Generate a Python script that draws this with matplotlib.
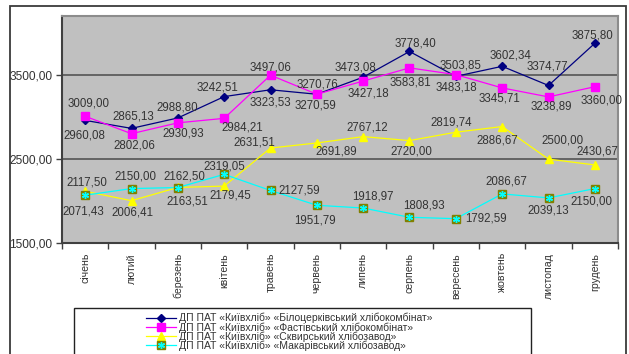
import matplotlib
matplotlib.use("Agg")
import matplotlib.pyplot as plt
from matplotlib.lines import Line2D
from matplotlib.patches import Rectangle

plt.rcParams["font.family"] = ["Liberation Sans", "DejaVu Sans"]

MONTHS = ["січень", "лютий", "березень", "квітень", "травень", "червень",
          "липень", "серпень", "вересень", "жовтень", "листопад", "грудень"]

BILA_TSERKVA = [2960.08, 2865.13, 2988.80, 3242.51, 3323.53, 3270.59,
                3473.08, 3778.40, 3483.18, 3602.34, 3374.77, 3875.80]
FASTIV = [3009.00, 2802.06, 2930.93, 2984.21, 3497.06, 3270.76,
          3427.18, 3583.81, 3503.85, 3345.71, 3238.89, 3360.00]
SKVYRA = [2117.50, 2006.41, 2163.51, 2179.45, 2631.51, 2691.89,
          2767.12, 2720.00, 2819.74, 2886.67, 2500.00, 2430.67]
MAKARIV = [2071.43, 2150.00, 2162.50, 2319.05, 2127.59, 1951.79,
           1918.97, 1808.93, 1792.59, 2086.67, 2039.13, 2150.00]

NAMES = [
    "ДП ПАТ «Київхліб» «Білоцерківський хлібокомбінат»",
    "ДП ПАТ «Київхліб» «Фастівський хлібокомбінат»",
    "ДП ПАТ «Київхліб» «Сквирський хлібозавод»",
    "ДП ПАТ «Київхліб» «Макарівський хлібозавод»",
]

# label offsets from each point, pixels (dx right, dy down)
OFFSETS = [
    [(-1, 15), (2, -12), (-1, -10), (-7, -9), (0, 13), (-1, 11),
     (-8, -10), (6, -8), (1, 11), (8, -11), (-1, -19), (-2, -8)],
    [(3, -13), (3, 12), (5, 11), (18, 9), (0, -8), (1, -10),
     (5, 12), (1, 15), (5, -9), (-3, 11), (3, 10), (7, 14)],
    [(2, -9), (1, 12), (9, 14), (6, 9), (-16, -6), (19, 9),
     (4, -9), (2, 11), (-5, -10), (-5, 14), (14, -19), (3, -13)],
    [(-2, 16), (4, -12), (7, -11), (0, -8), (29, 0), (-2, 15),
     (10, -12), (14, -12), (30, 0), (4, -12), (0, 13), (-3, 13)],
]

TXT = "#333333"
W, H = 629, 354

fig = plt.figure(figsize=(W / 100, H / 100), dpi=100)
fig.patch.set_facecolor("white")

# chart frame
fig.patches.append(Rectangle((10 / W, -0.05), 616 / W, 1.05 - 6 / H,
                             transform=fig.transFigure, fill=False,
                             edgecolor="#3a3a3a", linewidth=1.3))

ax = fig.add_axes([62 / W, (H - 243.3) / H, 556 / W, 227.3 / H])
ax.set_facecolor("#c0c0c0")

x = [i + 0.5 for i in range(len(MONTHS))]
ax.plot(x, BILA_TSERKVA, color="#000080", lw=0.9, marker="D", ms=4.2,
        zorder=4)
ax.plot(x, FASTIV, color="#ff00ff", lw=0.9, marker="s", ms=5.2, zorder=4)
ax.plot(x, SKVYRA, color="#ffff00", lw=0.9, marker="^", ms=6.2, zorder=4)
ax.plot(x, MAKARIV, color="#00ffff", lw=0.9, marker="s", ms=6.2,
        mfc="#808000", mec="#808000", zorder=4)
ax.plot(x, MAKARIV, ls="none", marker=(6, 2, 0), ms=5, mec="#00ffff",
        mew=1.0, zorder=5)

for series, offs in zip([BILA_TSERKVA, FASTIV, SKVYRA, MAKARIV], OFFSETS):
    for xi, v, (dx, dy) in zip(x, series, offs):
        ax.annotate(f"{v:.2f}".replace(".", ","), (xi, v),
                    xytext=(dx, -dy), textcoords="offset pixels",
                    ha="center", va="center", fontsize=8.3, color=TXT,
                    zorder=6)

ax.set_xlim(0, 12)
ax.set_ylim(1500, 4200)
ax.set_yticks([1500, 2500, 3500])
ax.set_yticklabels([f"{t:.2f}".replace(".", ",") for t in [1500, 2500, 3500]],
                   fontsize=8.6, color=TXT)
ax.grid(axis="y", color="#555555", lw=1.2)
ax.set_axisbelow(True)

ax.set_xticks(x)
ax.set_xticklabels(MONTHS, rotation=90, fontsize=7.6, color=TXT, va="top")
ax.set_xticks(range(13), minor=True)
ax.tick_params(axis="x", which="major", length=0, pad=7)
ax.tick_params(axis="x", which="minor", length=4, width=1, color="#404040")
ax.tick_params(axis="y", length=4, width=1, color="#404040", pad=3)

for side in ["left", "bottom"]:
    ax.spines[side].set_color("#404040")
    ax.spines[side].set_linewidth(1.5)
for side in ["top", "right"]:
    ax.spines[side].set_color("#8c8c8c")
    ax.spines[side].set_linewidth(1.5)

# legend box
fig.patches.append(Rectangle((74 / W, -0.05), 457 / W, 0.05 + (H - 308) / H,
                             transform=fig.transFigure, fill=False,
                             edgecolor="#222222", linewidth=1.0))
star = Line2D([], [], ls="none", marker=(6, 2, 0), ms=5, mec="#00ffff",
              mew=1.0)
handles = [
    Line2D([], [], color="#000080", lw=0.9, marker="D", ms=4.2),
    Line2D([], [], color="#ff00ff", lw=0.9, marker="s", ms=5.2),
    Line2D([], [], color="#ffff00", lw=0.9, marker="^", ms=6.2),
    (Line2D([], [], color="#00ffff", lw=0.9, marker="s", ms=6.2,
            mfc="#808000", mec="#808000"), star),
]
fig.legend(handles, NAMES, loc="upper left",
           bbox_to_anchor=(146 / W, (H - 313) / H), frameon=False,
           fontsize=7.5, labelspacing=-0.12, handlelength=2.9,
           handletextpad=0.3, borderpad=0, borderaxespad=0,
           labelcolor=TXT)

fig.savefig("out.png", dpi=100)
